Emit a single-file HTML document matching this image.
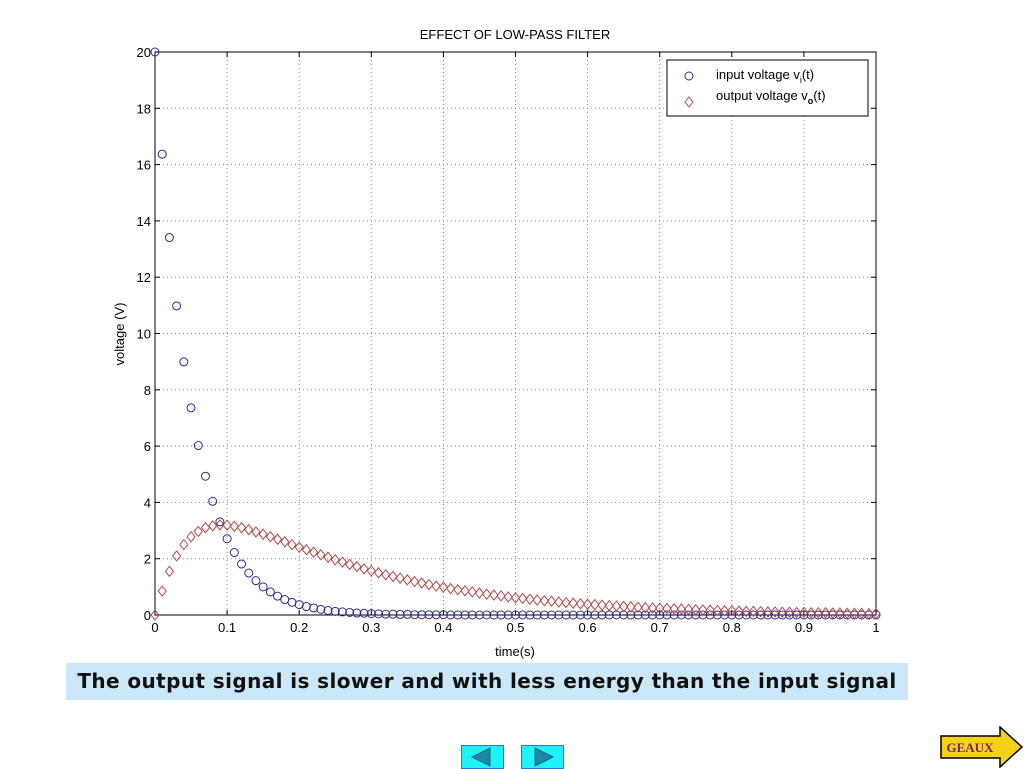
<!DOCTYPE html>
<html><head><meta charset="utf-8"><style>
body{margin:0;width:1024px;height:768px;background:#fff;position:relative;overflow:hidden;font-family:"Liberation Sans",sans-serif}
svg{position:absolute;left:0;top:0}
.banner{position:absolute;left:66px;top:663px;width:842px;height:37px;background:#cce8f8;font-family:"DejaVu Sans",sans-serif;font-weight:bold;font-size:20px;letter-spacing:0.4px;line-height:37px;text-align:center;color:#111;white-space:nowrap}
.nav{position:absolute;top:745px;width:41px;height:22px;background:#1ef4f8;border:1px solid #3a6fd0}
</style></head><body>
<svg width="1024" height="768">
<g id="grid"></g>
<g id="axes"></g>
<g id="marks"></g>
<text x="515" y="39" font-size="13" text-anchor="middle">EFFECT OF LOW-PASS FILTER</text>
<text x="515" y="656" font-size="13" text-anchor="middle">time(s)</text>
<text transform="translate(124,334) rotate(-90)" font-size="13" text-anchor="middle">voltage (V)</text>
<g>
<rect x="667" y="60" width="201" height="56" fill="#fff" stroke="#000" stroke-width="1"/>
<circle cx="689" cy="76" r="4" fill="none" stroke="#2b2b90"/>
<text x="716" y="79" font-size="13">input voltage v<tspan font-size="9" dy="4">i</tspan><tspan dy="-4">(t)</tspan></text>
<path d="M689,97 l4,5 l-4,5 l-4,-5z" fill="none" stroke="#b04848"/>
<text x="716" y="100" font-size="13">output voltage v<tspan font-size="9" dy="4" font-weight="bold">o</tspan><tspan dy="-4">(t)</tspan></text>
</g>
</svg>
<div class="banner">The output signal is slower and with less energy than the input signal</div>
<div class="nav" style="left:461px"><svg width="41" height="22"><path d="M10,11 L28,2 L28,20Z" fill="#1a8aa0" stroke="#1a6090"/></svg></div>
<div class="nav" style="left:521px"><svg width="41" height="22"><path d="M31,11 L13,2 L13,20Z" fill="#1a8aa0" stroke="#1a6090"/></svg></div>
<svg style="left:940px;top:726px" width="84" height="42"><path d="M1,10 H60 V1 L82,21 L60,41 V32 H1Z" fill="#f5d21a" stroke="#000" stroke-width="1.5"/><text x="30" y="26" font-family="Liberation Serif,serif" font-weight="bold" font-size="13" fill="#7a1f6a" text-anchor="middle">GEAUX</text></svg>
<script>
const timeStep = 0.01;
const inputVoltage = [20,16.37,13.41,10.98,8.99,7.36,6.02,4.93,4.04,3.31,2.71,2.22,1.81,1.49,1.22,1.00,0.82,0.67,0.55,0.45,0.37,0.30,0.25,0.20,0.16,0.13,0.11,0.09,0.07,0.06,0.05,0.04,0.03,0.03,0.02,0.02,0.01,0.01,0.01,0.01,0.01,0,0,0,0,0,0,0,0,0,0,0,0,0,0,0,0,0,0,0,0,0,0,0,0,0,0,0,0,0,0,0,0,0,0,0,0,0,0,0,0,0,0,0,0,0,0,0,0,0,0,0,0,0,0,0,0,0,0,0,0];
const outputVoltage = [0,0.85,1.55,2.1,2.5,2.78,2.97,3.1,3.17,3.2,3.19,3.15,3.1,3.03,2.95,2.87,2.78,2.69,2.6,2.5,2.41,2.32,2.23,2.14,2.05,1.96,1.88,1.8,1.72,1.64,1.57,1.5,1.43,1.37,1.31,1.25,1.19,1.14,1.08,1.03,0.99,0.94,0.9,0.86,0.82,0.78,0.74,0.71,0.68,0.64,0.61,0.59,0.56,0.53,0.51,0.49,0.46,0.44,0.42,0.4,0.38,0.37,0.35,0.33,0.32,0.3,0.29,0.27,0.26,0.25,0.24,0.23,0.22,0.21,0.2,0.19,0.18,0.17,0.16,0.15,0.15,0.14,0.13,0.13,0.12,0.11,0.11,0.1,0.1,0.09,0.09,0.08,0.08,0.08,0.07,0.07,0.06,0.06,0.06,0.05,0.05];
const xTicks = [0,0.1,0.2,0.3,0.4,0.5,0.6,0.7,0.8,0.9,1];
const xTickLabels = ["0","0.1","0.2","0.3","0.4","0.5","0.6","0.7","0.8","0.9","1"];
const yTicks = [0,2,4,6,8,10,12,14,16,18,20];

const L=155,R=876,T=52,B=615;
const xs=v=>L+(R-L)*v;
const ys=v=>B-(B-T)*v/20;
const NS="http://www.w3.org/2000/svg";
function mk(tag,attrs,parent){const e=document.createElementNS(NS,tag);for(const k in attrs)e.setAttribute(k,attrs[k]);parent.appendChild(e);return e;}
const grid=document.getElementById('grid'),axes=document.getElementById('axes'),marks=document.getElementById('marks');
xTicks.forEach((v,i)=>{
  const x=xs(v);
  if(i>0&&i<xTicks.length-1){const g=mk('line',{x1:x,x2:x,y1:T,y2:B,stroke:'#888','stroke-dasharray':'1,3'},grid);
  
  }
  mk('line',{x1:x,x2:x,y1:B,y2:B-5,stroke:'#000'},axes);
  mk('line',{x1:x,x2:x,y1:T,y2:T+5,stroke:'#000'},axes);
  const t=mk('text',{x:x,y:B+17,'font-size':13,'text-anchor':'middle'},axes);t.textContent=xTickLabels[i];
  
  
});
yTicks.forEach((v,i)=>{
  const y=ys(v);
  if(i>0&&i<yTicks.length-1){const g=mk('line',{x1:L,x2:R,y1:y,y2:y,stroke:'#888','stroke-dasharray':'1,3'},grid);
  
  }
  mk('line',{x1:L,x2:L+5,y1:y,y2:y,stroke:'#000'},axes);
  mk('line',{x1:R,x2:R-5,y1:y,y2:y,stroke:'#000'},axes);
  const t=mk('text',{x:L-4,y:y+5,'font-size':13,'text-anchor':'end'},axes);t.textContent=String(v);
  
  
});
mk('rect',{x:L,y:T,width:R-L,height:B-T,fill:'none',stroke:'#000'},axes);
inputVoltage.forEach((v,i)=>{
  const c=mk('circle',{cx:xs(i*timeStep),cy:ys(v),r:4,fill:'none',stroke:'#2b2b90'},marks);
  
  
});
outputVoltage.forEach((v,i)=>{
  const x=xs(i*timeStep),y=ys(v);
  const p=mk('path',{d:`M${x},${y-5} l4,5 l-4,5 l-4,-5z`,fill:'none',stroke:'#b04848'},marks);
  
  
});
</script>
</body></html>
